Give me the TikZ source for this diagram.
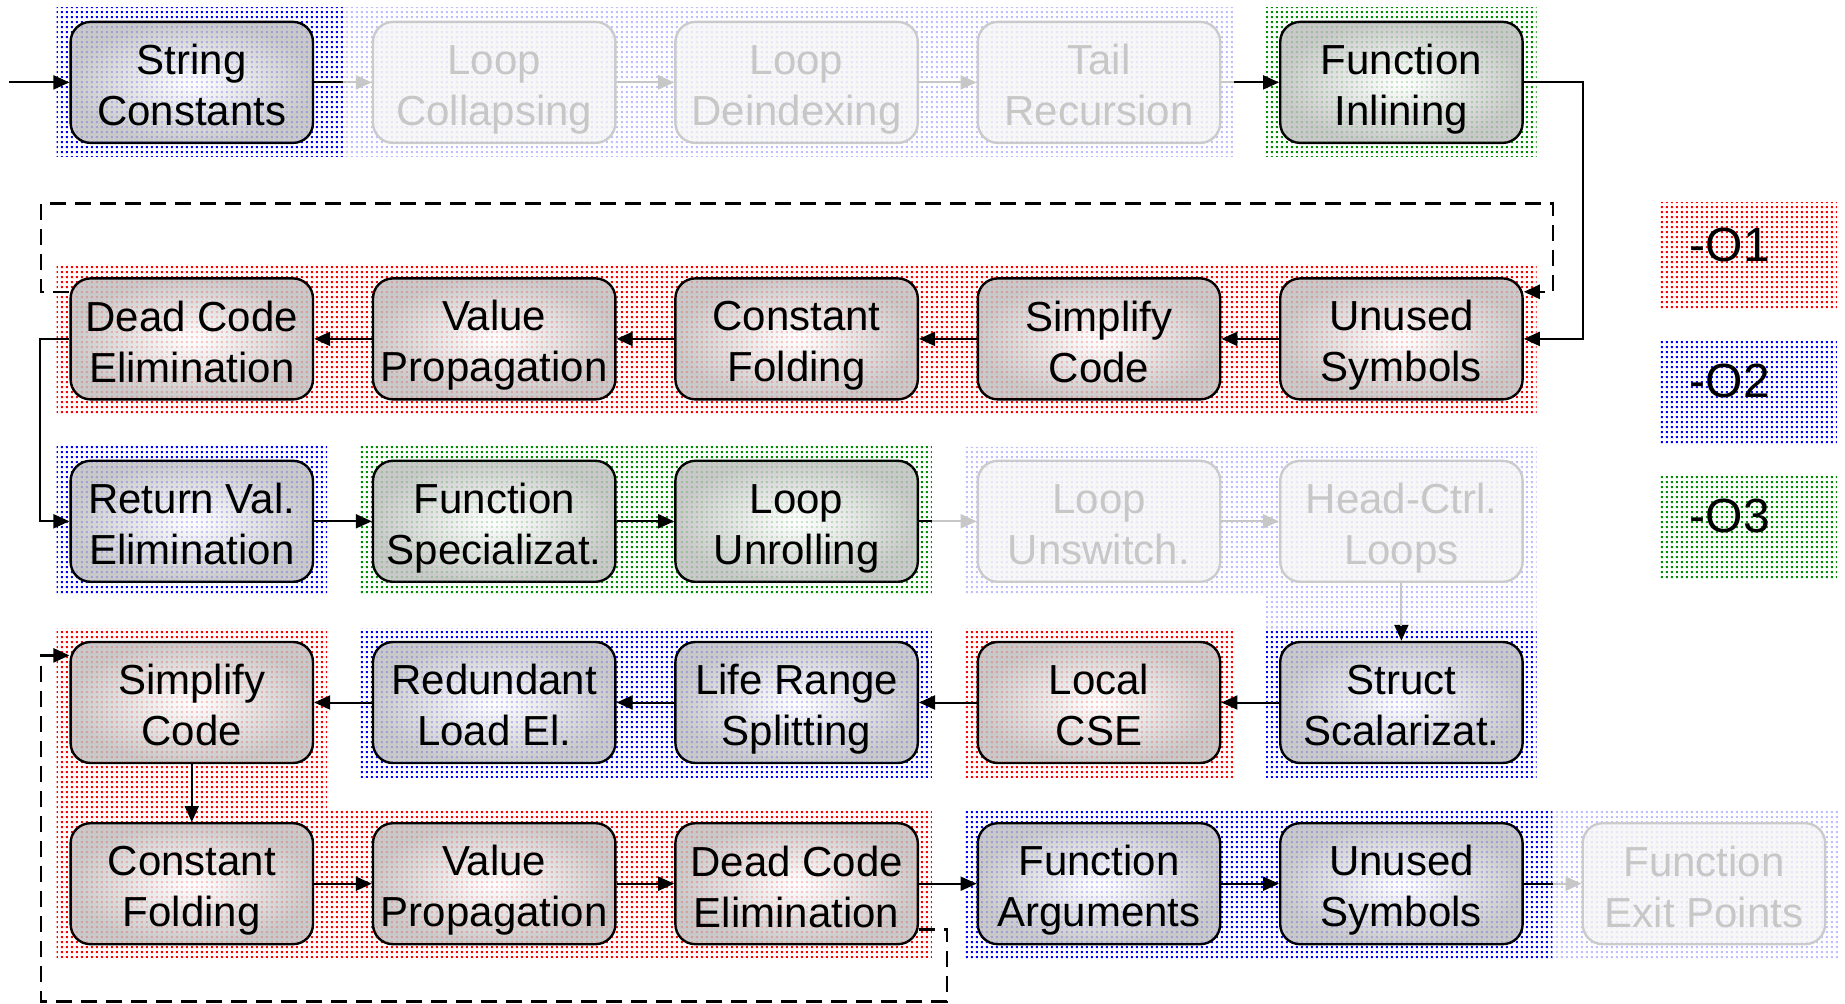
\documentclass[tikz,border=0pt]{standalone}
\usepackage{fontspec}
\setmainfont{Liberation Sans}
\usetikzlibrary{arrows.meta,patterns,calc}
\pgfdeclarepatternformonly{fdots}{\pgfqpoint{0pt}{0pt}}{\pgfqpoint{2.5pt}{2.5pt}}{\pgfqpoint{2.5pt}{2.5pt}}{\pgfpathrectangle{\pgfqpoint{0.5pt}{0.5pt}}{\pgfqpoint{1.2pt}{1.2pt}}\pgfusepath{fill}}
\definecolor{dgreen}{RGB}{0,140,0}
\newcommand\twol[2]{\rule{0pt}{21.9pt}#1\\#2\rule[-4pt]{0pt}{4pt}}
\tikzset{
  stage/.style={draw, line width=1.2pt, rounded corners=10pt, minimum width=121.2pt,
    minimum height=60.5pt, align=center, inner sep=0pt, font=\fontsize{21}{25.5}\selectfont},
  glass/.style={stage, inner color=white, outer color=black!21,
    postaction={fill opacity=0.2, pattern=fdots, pattern color=#1}},
  oone/.style={glass=red},
  otwo/.style={glass=blue},
  othree/.style={glass=dgreen},
  faded/.style={stage, draw=black!20, fill=black!3, text=black!22,
    postaction={fill opacity=0.18, pattern=fdots, pattern color=blue!40}},
  regred/.style={pattern=fdots, pattern color=red},
  regblue/.style={pattern=fdots, pattern color=blue},
  reggreen/.style={pattern=fdots, pattern color=dgreen},
  regfade/.style={pattern=fdots, pattern color=blue!25},
  conn/.style={line width=1pt, -{Triangle[length=8pt,width=7pt]}},
  fconn/.style={conn, draw=black!22},
  plainline/.style={line width=1pt},
  fadeline/.style={line width=1pt, draw=black!22},
  loopline/.style={conn, line width=1.25pt, dash pattern=on 8pt off 4.5pt},
  legend/.style={font=\fontsize{24}{28}\selectfont}
}
\begin{document}
\begin{tikzpicture}[x=0.5pt,y=-0.5pt]
\useasboundingbox (0,0) rectangle (1845,1004);
% background regions
\path[regblue] (56.6,7.9) rectangle (343.2,156.9);
\path[regfade] (343.2,7.9) rectangle (1234.2,156.9);
\path[reggreen] (1266.2,7.9) rectangle (1536.6,156.9);
\path[regred] (56.6,264.4) rectangle (1536.6,413.4);
\path[regblue] (56.6,446.8) rectangle (327,595.8);
\path[reggreen] (359,446.8) rectangle (931.8,595.8);
\path[regfade] (963.8,446.8) -- (1536.6,446.8) -- (1536.6,628) -- (1266.2,628) -- (1266.2,595.8) -- (963.8,595.8) -- cycle;
\path[regred] (56.6,628) -- (327,628) -- (327,809.2) -- (931.8,809.2) -- (931.8,958.2) -- (56.6,958.2) -- cycle;
\path[regblue] (359,628) rectangle (931.8,777);
\path[regred] (963.8,628) rectangle (1234.2,777);
\path[regblue] (1266.2,628) rectangle (1536.6,777);
\path[regblue] (963.8,809.2) rectangle (1552.6,958.2);
\path[regfade] (1552.6,809.2) rectangle (1839.1,958.2);
% legend
\path[regred] (1659.1,202.4) rectangle (1836.8,308.3);
\path[regblue] (1659.1,340.1) rectangle (1836.8,443.6);
\path[reggreen] (1659.1,475.4) rectangle (1836.8,580.1);
\node[legend] (l1) at (1729.7,245) {-O1};
\node[legend] (l2) at (1729.7,380.5) {-O2};
\node[legend] (l3) at (1729.7,515.5) {-O3};
% row 1
\node[otwo] (sc) at (191.8,82.4) {\twol{String}{Constants}};
\node[faded] (lc) at (494.2,82.4) {\twol{Loop}{Collapsing}};
\node[faded] (ld) at (796.6,82.4) {\twol{Loop}{Deindexing}};
\node[faded] (tr) at (1099.0,82.4) {\twol{Tail}{Recursion}};
\node[othree] (fi) at (1401.4,82.4) {\twol{Function}{Inlining}};
% row 2
\node[oone] (dc1) at (191.8,338.9) {\twol{Dead Code}{Elimination}};
\node[oone] (vp1) at (494.2,338.9) {\twol{Value}{Propagation}};
\node[oone] (cf1) at (796.6,338.9) {\twol{Constant}{Folding}};
\node[oone] (sc1) at (1099.0,338.9) {\twol{Simplify}{Code}};
\node[oone] (us1) at (1401.4,338.9) {\twol{Unused}{Symbols}};
% row 3
\node[otwo] (rv) at (191.8,521.3) {\twol{Return Val.}{Elimination}};
\node[othree] (fs) at (494.2,521.3) {\twol{Function}{Specializat.}};
\node[othree] (lu) at (796.6,521.3) {\twol{Loop}{Unrolling}};
\node[faded] (lw) at (1099.0,521.3) {\twol{Loop}{Unswitch.}};
\node[faded] (hc) at (1401.4,521.3) {\twol{Head-Ctrl.}{Loops}};
% row 4
\node[oone] (sm) at (191.8,702.5) {\twol{Simplify}{Code}};
\node[otwo] (rl) at (494.2,702.5) {\twol{Redundant}{Load El.}};
\node[otwo] (lr) at (796.6,702.5) {\twol{Life Range}{Splitting}};
\node[oone] (lcse) at (1099.0,702.5) {\twol{Local}{CSE}};
\node[otwo] (ss) at (1401.4,702.5) {\twol{Struct}{Scalarizat.}};
% row 5
\node[oone] (cf2) at (191.8,883.7) {\twol{Constant}{Folding}};
\node[oone] (vp2) at (494.2,883.7) {\twol{Value}{Propagation}};
\node[oone] (dc2) at (796.6,883.7) {\twol{Dead Code}{Elimination}};
\node[otwo] (fa) at (1099.0,883.7) {\twol{Function}{Arguments}};
\node[otwo] (us2) at (1401.4,883.7) {\twol{Unused}{Symbols}};
\node[faded] (fe) at (1703.9,883.7) {\twol{Function}{Exit Points}};
% helper coordinates
\coordinate (start) at (9.4,82.4);
\coordinate (m1) at (343.2,82.4);
\coordinate (m2) at (1234.2,82.4);
\coordinate (m3) at (931.8,521.3);
\coordinate (m4) at (1401.4,626);
\coordinate (m5) at (1552.6,883.7);
\coordinate (r1) at (1582.7,82.4);
\coordinate (da) at (41.2,203.6);
\coordinate (db) at (1553.2,291.8);
\coordinate (dc) at (947.2,1001.4);
\coordinate (dd) at (41.2,655.4);
% row 1 connectors
\draw[conn] (start) -- (sc);
\draw[fconn] (sc) -- (lc);
\draw[plainline] (sc.east) -- (m1);
\draw[fconn] (lc) -- (ld);
\draw[fconn] (ld) -- (tr);
\draw[conn] (tr) -- (fi);
\draw[fadeline] (tr.east) -- (m2);
\draw[conn] (fi.east) -- (r1) |- (us1.east);
% row 2
\draw[conn] (us1) -- (sc1);
\draw[conn] (sc1) -- (cf1);
\draw[conn] (cf1) -- (vp1);
\draw[conn] (vp1) -- (dc1);
\draw[loopline] ($(dc1.west)+(0,-47.1)$) -| (da) -| (db) -- ($(us1.east)+(0,-47.1)$);
\draw[conn] (dc1.west) -- ++(-29.4,0) |- (rv.west);
% row 3
\draw[conn] (rv) -- (fs);
\draw[conn] (fs) -- (lu);
\draw[fconn] (lu) -- (lw);
\draw[plainline] (lu.east) -- (m3);
\draw[fconn] (lw) -- (hc);
\draw[conn] (hc) -- (ss);
\draw[fadeline] (hc.south) -- (m4);
% row 4
\draw[conn] (ss) -- (lcse);
\draw[conn] (lcse) -- (lr);
\draw[conn] (lr) -- (rl);
\draw[conn] (rl) -- (sm);
\draw[conn] (sm) -- (cf2);
% row 5
\draw[conn] (cf2) -- (vp2);
\draw[conn] (vp2) -- (dc2);
\draw[conn] (dc2) -- (fa);
\draw[conn] (fa) -- (us2);
\draw[fconn] (us2) -- (fe);
\draw[plainline] (us2.east) -- (m5);
\draw[loopline] ($(dc2.east)+(0,45.9)$) -| (dc) -| (dd) -- ($(sm.west)+(0,-47.1)$);
\end{tikzpicture}
\end{document}
